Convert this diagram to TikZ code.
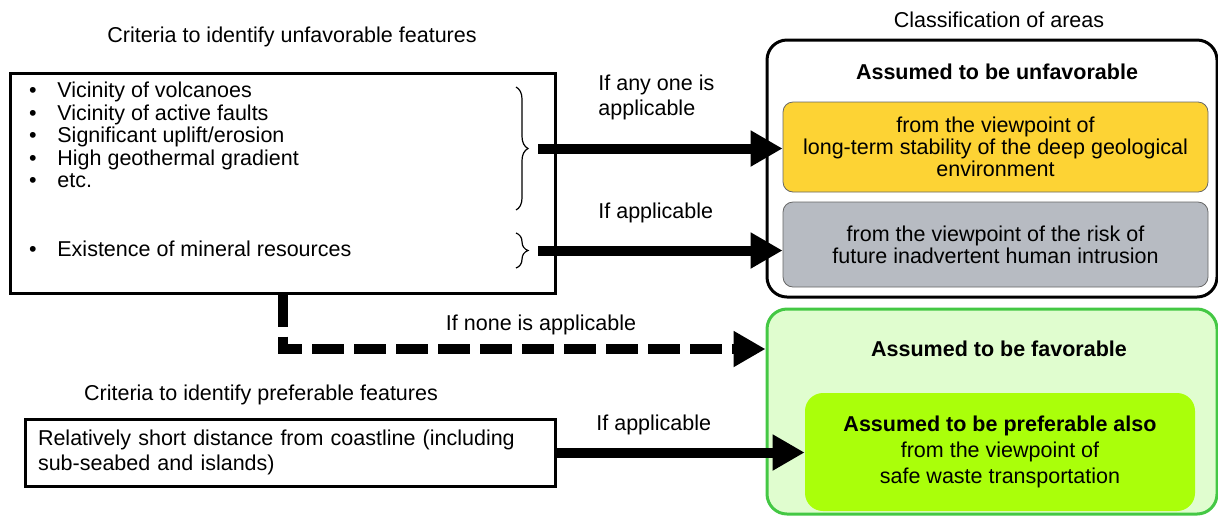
\documentclass[tikz,border=0pt]{standalone}
\usepackage{fontspec}
\setmainfont{Liberation Sans}
\usepackage{xcolor}
\usetikzlibrary{arrows.meta}
\usetikzlibrary{decorations.pathreplacing}

\definecolor{stabyellow}{HTML}{FDD334}
\definecolor{intrgray}{HTML}{B7BBC2}
\definecolor{favgreen}{HTML}{E0FDCF}
\definecolor{favedge}{HTML}{44C844}
\definecolor{prefgreen}{HTML}{AAFF0A}
\newcommand{\diagfont}{\fontsize{10.75}{11}\selectfont}

\begin{document}
\begin{tikzpicture}[x=0.5pt, y=-0.5pt, font=\diagfont,
  every node/.style={inner sep=0pt},
  critbox/.style={draw, line width=1.5pt},
  areabox/.style={draw, rounded corners=10pt, line width=1.5pt, minimum width=225pt},
  subbox/.style={draw=black!60, line width=0.4pt, rounded corners=5pt, minimum width=212.5pt, align=center},
  bigarrow/.style={line width=5pt, -{Triangle[length=16pt,width=17pt]}},
  nonearrow/.style={bigarrow, dash pattern=on 16pt off 5pt},
  featbrace/.style={decorate, decoration={brace, amplitude=6pt}, line width=0.6pt}]

\useasboundingbox (0,0) rectangle (1218,516);

\node (crittitle) at (292,37) {Criteria to identify unfavorable features};
\node (classtitle) at (999,20) {Classification of areas};

\node[critbox, minimum width=272.5pt, minimum height=110pt] (crit) at (282.5,183) {};
\foreach \t [count=\i] in {Vicinity of volcanoes, Vicinity of active faults, Significant uplift/erosion, High geothermal gradient, etc.}
    \node[anchor=base west] (feat\i) at (57,75+22.5*\i) {\t};
\node[anchor=base west] (mineral) at (57,256.5) {Existence of mineral resources};
\foreach \n in {feat1, feat2, feat3, feat4, feat5, mineral}
    \node[anchor=base] at ([xshift=-12pt]\n.base west) {\textbullet};

\draw[featbrace] (516,87) -- (516,210);
\draw[featbrace] (516,233) -- (516,268);
\coordinate (tip1) at (528,148.5);
\coordinate (tip2) at (528,250.5);

\node[areabox, minimum height=128.5pt] (unf) at (992,168.5) {};
\node[font=\diagfont\bfseries] (unftitle) at (997,72) {Assumed to be unfavorable};
\node[subbox, fill=stabyellow, minimum height=45pt] (stab) at (995.5,147)
    {from the viewpoint of\\long-term stability of the deep geological\\environment};
\node[subbox, fill=intrgray, minimum height=42.5pt] (intr) at (995.5,244.5)
    {from the viewpoint of the risk of\\future inadvertent human intrusion};

\node[areabox, draw=favedge, fill=favgreen, minimum height=102.5pt] (fav) at (992,411.5) {};
\node[font=\diagfont\bfseries] (favtitle) at (999,349) {Assumed to be favorable};
\node[fill=prefgreen, rounded corners=9pt, minimum width=195pt, minimum height=59pt, align=center,
    font=\fontsize{10.75}{13}\selectfont] (trans) at (1000,452)
    {\textbf{Assumed to be preferable also}\\from the viewpoint of\\safe waste transportation};

\node (preftitle) at (261,395) {Criteria to identify preferable features};
\node[critbox, minimum width=265pt, minimum height=33.5pt, text width=252pt, align=left,
    font=\fontsize{10.75}{12.5}\selectfont] (coast) at (290,452.5)
    {Relatively short distance from coastline (including\\sub-seabed and islands)};

\node[anchor=west, align=left, font=\fontsize{10.75}{12.5}\selectfont] (anyone) at (598,97.5) {If any one is\\applicable};
\node[anchor=west] (ifapp1) at (598,213) {If applicable};
\node (none) at (541,325) {If none is applicable};
\node[anchor=west] (ifapp2) at (596,425) {If applicable};

\draw[bigarrow] ([xshift=5pt]tip1) -- (tip1 -| stab.west);
\draw[bigarrow] ([xshift=5pt]tip2) -- (tip2 -| intr.west);
\draw[nonearrow] (crit.south) |- (favtitle -| fav.west);
\draw[bigarrow] (coast.east) -- (coast.east -| trans.west);
%
\end{tikzpicture}
\end{document}
